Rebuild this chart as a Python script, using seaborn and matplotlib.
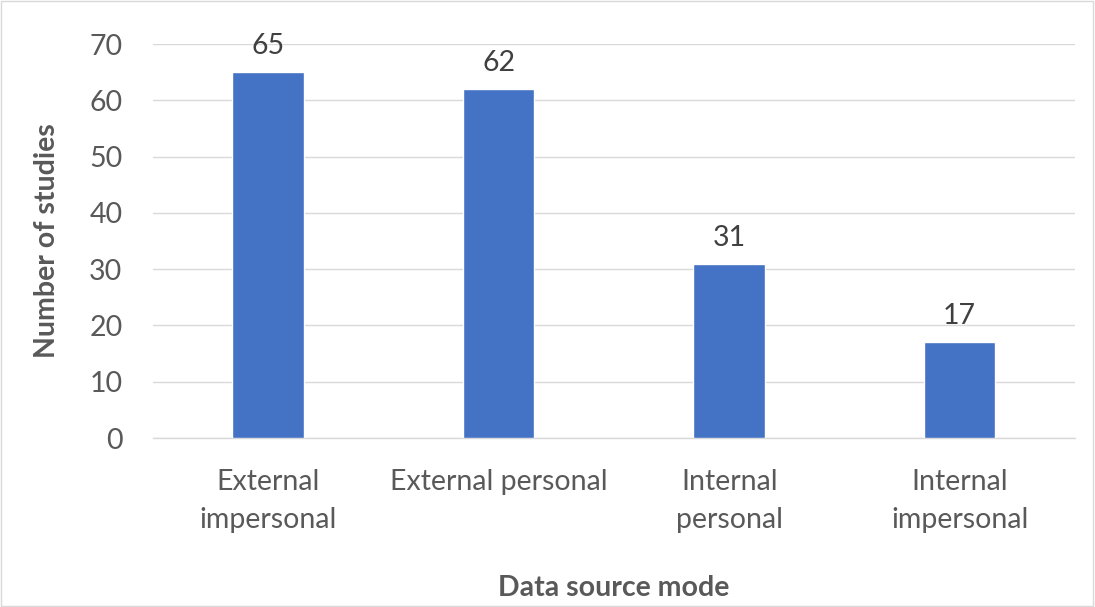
import matplotlib
matplotlib.use("Agg")
import matplotlib.pyplot as plt
import seaborn as sns
import pandas as pd

categories = ["External\nimpersonal", "External personal", "Internal\npersonal", "Internal\nimpersonal"]
studies = [65, 62, 31, 17]
y_ticks = [0, 10, 20, 30, 40, 50, 60, 70]

sns.set_theme(style="white")
plt.rcParams["font.family"] = ["Lato", "DejaVu Sans"]

df = pd.DataFrame({"mode": categories, "count": studies})

fig = plt.figure(figsize=(10.95, 6.07), dpi=100)
ax = fig.add_axes([0.1397, 0.2784, 0.8420, 0.6491])

sns.barplot(data=df, x="mode", y="count", color="#4472C4", width=0.31,
            saturation=1, ax=ax, zorder=3)

fs = 20.5
for i, v in enumerate(studies):
    ax.text(i, v + 2.3, str(v), ha="center", va="bottom", fontsize=fs, color="#404040")

ax.set_ylim(0, 70)
ax.set_yticks(y_ticks)
ax.set_xlim(-0.5, 3.5)
ax.yaxis.grid(True, color="#d9d9d9", linewidth=1, zorder=0)
ax.xaxis.grid(False)
for s in ["top", "right", "left"]:
    ax.spines[s].set_visible(False)
ax.spines["bottom"].set_color("#d9d9d9")
ax.spines["bottom"].set_linewidth(1)

ax.tick_params(axis="y", labelsize=fs, labelcolor="#595959", length=0, pad=22)
ax.tick_params(axis="x", labelsize=fs, labelcolor="#595959", length=0, pad=22)
for t in ax.get_xticklabels():
    t.set_linespacing(1.6)

ax.set_ylabel("Number of studies", fontsize=fs, fontweight="bold", color="#595959", labelpad=21)
ax.set_xlabel("Data source mode", fontsize=fs, fontweight="bold", color="#595959", labelpad=30)

# thin frame around the whole figure
fig.patches.append(plt.Rectangle((0.001, 0.001), 0.997, 0.997, transform=fig.transFigure,
                                 fill=False, edgecolor="#d9d9d9", linewidth=1))

fig.savefig("out.png", dpi=100)
